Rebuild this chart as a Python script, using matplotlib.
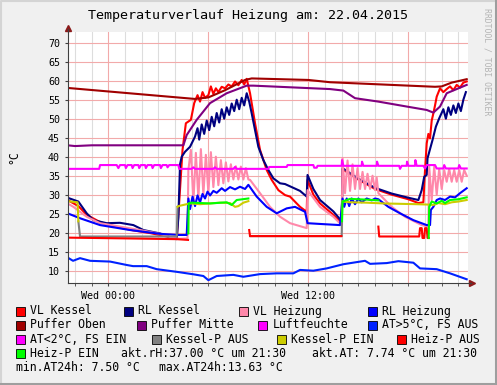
import numpy as np
import matplotlib
matplotlib.use('Agg')
import matplotlib.pyplot as plt
from matplotlib.patches import Rectangle
from matplotlib.lines import Line2D

nan = np.nan

# ── Daten (Stunden relativ zu Wed 00:00, Werte in °C) ─────────────
vl_kessel_t = [-2.45, -1.8, -1.3, -0.5, 0.5, 1.5, 2.5, 3.5, 4.1, 4.25, 4.45, 4.65, 4.95, 5.15, 5.35,
               5.5, 5.65, 5.8, 6.0, 6.15, 6.3, 6.45, 6.6, 6.8, 7.0, 7.2, 7.4, 7.6, 7.8, 8.0, 8.15,
               8.3, 8.5, 8.8, 9.1, 9.5, 9.8, 10.2, 10.6, 10.9, 11.5, 11.9, 11.95, 12.3, 12.7, 13.5,
               14.0, 14.05, 15.0, 16.0, 17.0, 18.0, 18.6, 18.9, 19.0, 19.1, 19.2, 19.3, 19.4, 19.5,
               19.6, 19.7, 19.9, 20.1, 20.3, 20.5, 20.7, 20.9, 21.1, 21.3, 21.5]
vl_kessel_v = [28.6, 27.0, 24.7, 22.8, 21.5, 20.6, 19.9, 19.0, 18.4, 28.0, 41.8, 48.8, 49.7, 54.1, 56.2,
               54.5, 57.0, 55.5, 56.2, 58.5, 56.5, 58.0, 57.0, 58.4, 58.0, 59.0, 58.5, 59.8, 58.8, 60.2, 59.0,
               60.5, 56.7, 48.8, 41.8, 36.5, 33.9, 31.2, 29.9, 29.5, 26.8, 25.5, 33.9, 30.0, 27.7, 24.7,
               22.5, 36.7, 34.0, 31.5, 30.0, 28.8, 27.8, 28.0, 36.5, 43.5, 46.0, 44.8, 49.5, 51.4,
               53.5, 55.8, 58.0, 57.0, 57.8, 58.5, 57.5, 58.9, 58.2, 59.5, 59.8]

rl_kessel_t = [-2.45, -1.8, -1.3, -0.9, -0.1, 0.7, 1.5, 2.1, 3.1, 3.9, 4.1, 4.2, 4.3, 4.4, 4.6, 4.9,
               5.2, 5.35, 5.45, 5.6, 5.75, 5.9, 6.05, 6.2, 6.35, 6.5, 6.65, 6.8, 6.95, 7.1, 7.25,
               7.4, 7.55, 7.7, 7.85, 8.0, 8.15, 8.3, 8.45, 8.6, 8.8, 9.0, 9.3, 9.6, 9.9, 10.3, 10.6,
               11.0, 11.5, 11.9, 11.95, 12.3, 12.7, 13.5, 14.0, 14.05, 15.0, 16.0, 17.0, 18.0, 18.6,
               18.8, 18.95, 19.1, 19.15, 19.45, 19.65, 19.85, 20.1, 20.25, 20.4, 20.55, 20.7, 20.85,
               21.0, 21.15, 21.3, 21.45]
rl_kessel_v = [29.2, 28.2, 25.1, 23.3, 22.5, 22.6, 22.0, 20.7, 19.8, 18.5, 18.3, 24.0, 38.0, 40.0, 41.3, 42.6,
               45.3, 47.5, 44.5, 48.5, 46.0, 49.5, 47.0, 50.5, 48.0, 51.5, 49.0, 52.5, 50.0, 53.0, 51.0,
               54.0, 52.0, 55.0, 52.5, 55.5, 53.5, 56.7, 54.5, 51.4, 47.0, 42.6, 39.1, 36.5, 34.3, 33.0, 32.8,
               32.0, 31.0, 29.5, 35.2, 31.5, 28.6, 25.6, 23.0, 37.0, 34.2, 31.8, 30.3, 29.2, 28.6,
               31.2, 34.7, 35.2, 39.6, 44.4, 47.9, 50.1, 52.5, 50.0, 53.0, 51.0, 53.5, 51.5,
               54.0, 52.0, 55.0, 57.0]

vl_heizung_t = [-2.45, -2.1, -1.3, -0.5, 0.7, 1.9, 3.1, 3.9, 4.3, 4.75,
                4.8, 4.95, 5.1, 5.25, 5.4, 5.55, 5.7, 5.85, 6.0, 6.15, 6.3, 6.45, 6.6, 6.75, 6.9, 7.05,
                7.2, 7.35, 7.5, 7.65, 7.8, 7.95, 8.1, 8.25, 8.4, 8.5,
                9.1, 9.7, 10.3, 10.9, 11.9, 11.95, 12.7, 13.5, 14.0,
                14.05, 14.2, 14.35, 14.5, 14.65, 14.8, 14.95, 15.1, 15.25, 15.4, 15.55, 15.7, 15.85,
                16.0, 16.1, 16.2, 17.0, 17.8, 18.8, 19.2,
                19.25, 19.4, 19.55, 19.7, 19.85, 20.0, 20.15, 20.3, 20.45, 20.6, 20.75, 20.9, 21.05,
                21.2, 21.35, 21.5]
vl_heizung_v = [27.7, 26.8, 24.2, 22.5, 21.6, 20.7, 19.7, 18.6, 18.4, 18.5,
                36.5, 41.8, 28.0, 41.0, 29.0, 42.0, 30.0, 40.5, 30.5, 41.2, 32.0, 40.0, 32.5, 39.1, 33.0, 38.5,
                33.5, 38.0, 34.0, 37.5, 34.0, 37.4, 34.0, 37.0, 34.0, 33.9,
                30.4, 26.8, 24.2, 22.5, 21.2, 31.2, 26.8, 24.2, 22.0,
                39.6, 30.4, 39.0, 31.0, 38.0, 31.5, 37.0, 31.5, 36.0, 31.5, 35.5, 31.5, 35.0,
                31.2, 34.5, 30.4, 26.8, 24.2, 22.0, 21.6,
                37.4, 28.6, 37.4, 30.0, 36.8, 31.5, 36.5, 33.4, 36.8, 33.4, 36.5, 33.4, 36.5,
                33.4, 36.5, 35.0]

rl_heizung_t = [-2.45, -1.7, -0.5, 1.3, 3.1, 4.2, 4.7, 4.8, 4.9, 5.05, 5.2, 5.35, 5.5, 5.65, 5.8, 5.95,
                6.1, 6.3, 6.5, 6.8, 7.0, 7.3, 7.6, 7.9, 8.2, 8.4, 8.9, 9.5, 10.1, 10.7, 11.2, 11.8, 11.95,
                12.7, 13.9, 14.05, 14.15, 14.3, 14.45, 14.6, 14.8, 15.0, 15.2, 15.5, 15.8, 16.0, 16.2,
                16.8, 17.5, 18.3, 19.1, 19.3, 19.35, 19.5, 19.7, 19.9, 20.2, 20.5, 20.8, 21.1, 21.5]
rl_heizung_v = [25.1, 23.8, 22.0, 20.7, 19.7, 19.4, 19.4, 29.0, 26.2, 29.5, 27.0, 29.8, 28.0, 30.2, 29.0, 30.8,
                29.8, 31.0, 30.5, 31.7, 31.0, 32.0, 31.4, 32.1, 31.5, 32.6, 29.5, 26.8, 25.1, 26.4, 26.8, 25.5, 22.5,
                22.3, 22.0, 29.0, 26.8, 29.0, 27.0, 29.0, 27.5, 29.0, 28.0, 29.0, 28.5, 29.0, 28.8,
                26.8, 25.1, 23.3, 22.0, 22.0, 26.0, 26.8, 28.6, 29.0, 28.6, 29.5, 29.3, 30.4, 31.7]

puffer_oben_t = [-2.45, 5.2, 6.0, 7.0, 8.2, 8.6, 12.0, 13.3, 19.6, 20.0, 20.6, 21.5]
puffer_oben_v = [58.1, 55.2, 55.6, 57.5, 60.2, 60.6, 60.2, 59.6, 58.4, 58.5, 59.5, 60.4]

puffer_mitte_t = [-2.45, -2.0, -1.0, 4.5, 4.7, 5.3, 6.1, 7.1, 8.3, 8.7, 13.3, 14.1, 14.8, 16.2, 17.9,
                  19.1, 19.5, 19.9, 20.3, 21.5]
puffer_mitte_v = [43.0, 42.8, 43.0, 43.0, 45.7, 49.7, 54.1, 56.7, 58.7, 58.7, 57.8, 57.4, 55.4, 54.5, 53.2,
                  52.3, 51.6, 53.2, 56.7, 58.9]

luft_t = [-2.45, -0.55, -0.5, 0.5, 0.6, 0.7, 1.0, 1.05, 1.15, 1.4, 1.45, 1.55, 1.8, 1.85, 1.95, 2.2,
          2.25, 2.35, 2.6, 2.65, 2.75, 3.1, 3.15, 3.25, 3.5, 3.55, 3.65, 4.2, 4.25, 5.0, 5.1, 5.2,
          6.3, 6.4, 6.5, 7.5, 7.6, 7.7, 9.6, 9.65, 10.7, 10.75, 12.3, 12.35, 12.5, 12.55, 14.0, 14.02,
          14.1, 15.2, 15.22, 15.3, 16.1, 16.12, 16.2, 17.45, 17.5, 17.6, 17.9, 17.92, 18.0, 18.4,
          18.42, 18.5, 18.9, 19.0, 19.1, 19.6, 19.7, 20.1, 20.15, 20.25, 21.0, 21.05, 21.15, 21.5]
luft_v = [36.8, 36.8, 37.8, 37.8, 37.0, 37.8, 37.8, 37.0, 37.8, 37.8, 37.0, 37.8, 37.8, 37.0, 37.8, 37.8,
          37.0, 37.8, 37.8, 37.0, 37.8, 37.8, 37.0, 37.8, 37.8, 37.2, 37.8, 37.8, 36.8, 36.8, 37.2, 36.8,
          36.8, 37.2, 36.8, 36.8, 37.3, 36.8, 36.8, 37.3, 37.3, 37.8, 37.8, 37.1, 37.1, 37.6, 37.6, 39.1,
          37.6, 37.6, 38.7, 37.6, 37.6, 38.7, 37.6, 37.6, 36.8, 37.6, 37.6, 38.7, 37.6, 37.6,
          39.1, 37.6, 37.6, 36.9, 37.8, 37.8, 36.9, 36.9, 37.8, 36.9, 36.9, 37.8, 36.9, 36.9]

at_t = [-2.46, -2.12, -1.7, -1.1, 0.1, 1.1, 1.48, 2.3, 2.9, 4.1, 5.1, 5.7, 6.0, 6.5, 7.5, 8.1, 9.1,
        10.1, 11.1, 11.5, 12.3, 13.1, 14.1, 15.4, 15.7, 16.7, 17.4, 18.3, 18.7, 19.7, 20.5, 21.5]
at_v = [13.5, 12.6, 13.3, 12.6, 12.4, 11.5, 11.2, 11.2, 10.4, 9.7, 9.05, 8.6, 7.5, 8.6, 8.9, 8.4, 9.1,
        9.3, 9.3, 10.2, 10.0, 10.6, 11.7, 12.6, 11.8, 12.0, 12.5, 12.1, 10.6, 10.4, 9.3, 7.74]

kp_aus_t = [-1.8, -1.7, 4.1, 4.15, 4.2, 8.5, 14.0, 14.03]
kp_aus_v = [23.0, 19.0, 19.0, 26.8, nan, 19.1, 19.1, 28.2]

kp_ein_t = [-2.45, -1.85, -1.8, -1.75, 4.15, 4.2, 4.9, 5.5, 6.1, 6.7, 7.3, 7.6, 7.8, 8.1, 8.4, 8.45,
            14.05, 14.5, 15.5, 16.5, 17.5, 18.5, 19.2, 19.5, 19.8, 20.2, 20.6, 21.0, 21.5]
kp_ein_v = [28.3, 28.0, 23.0, nan, 26.8, 27.0, 27.7, 27.5, 27.7, 27.9, 27.8, 26.8, 27.0, 27.9, 28.3, nan,
            28.2, 28.0, 27.9, 27.7, 27.6, 27.5, 27.4, 27.3, 27.8, 27.5, 28.0, 28.2, 28.6]

hp_aus_t = [-2.45, 1.0, 4.1, 4.78, 4.8, 8.45, 8.5, 13.98, 14.0, 16.2, 16.25, 18.65, 18.7, 18.8,
            18.85, 18.95, 19.0, 19.1, 19.15, 19.22]
hp_aus_v = [18.7, 18.5, 18.3, 18.1, nan, 20.7, 19.1, 19.1, nan, 21.6, 19.0, 19.0, 21.2, 21.2,
            18.6, 18.6, 21.2, 21.2, 18.6, 18.6]

hp_ein_t = [4.8, 4.82, 5.0, 6.1, 7.1, 7.4, 7.7, 8.4, 8.45, 14.02, 14.05, 14.5, 15.0, 15.5, 16.2, 16.25,
            19.22, 19.25, 19.4, 19.7, 20.0, 20.2, 20.5, 21.0, 21.5]
hp_ein_v = [19.8, 27.7, 27.9, 27.7, 28.0, 27.3, 28.6, 29.0, nan, 23.0, 28.2, 28.9, 28.8, 28.7, 28.5, nan,
            18.6, 26.8, 28.2, 27.7, 28.4, 27.8, 28.6, 28.8, 29.3]

# ── Legende ───────────────────────────────────────────────────────
legend = [
    ('VL Kessel', '#FF0000', 16, 311), ('RL Kessel', '#000080', 124, 311),
    ('VL Heizung', '#FF88AA', 239, 311), ('RL Heizung', '#0000FF', 368, 311),
    ('Puffer Oben', '#A00000', 16, 325), ('Puffer Mitte', '#800080', 136.5, 325),
    ('Luftfeuchte', '#FF00FF', 258, 325), ('AT>5°C, FS AUS', '#0022FF', 368, 325),
    ('AT<2°C, FS EIN', '#FF00FF', 16, 339.3), ('Kessel-P AUS', '#808080', 151.5, 339.3),
    ('Kessel-P EIN', '#CCCC00', 276.5, 339.3), ('Heiz-P AUS', '#FF0000', 396.5, 339.3),
    ('Heiz-P EIN', '#00FF00', 16, 353.3),
]
extra_text = [
    ('akt.rH:37.00 °C um 21:30', 121, 353.3), ('akt.AT: 7.74 °C um 21:30', 312.5, 353.3),
    ('min.AT24h: 7.50 °C', 16.5, 367.3), ('max.AT24h:13.63 °C', 159, 367.3),
]

W, H = 497, 385
plt.rcParams['font.family'] = ['DejaVu Sans Mono']

fig = plt.figure(figsize=(W / 100, H / 100), dpi=100)
fig.patch.set_facecolor('#F0F0F0')

ax = fig.add_axes([67.7 / W, (H - 283.3) / H, 400 / W, 251 / H])
ax.set_facecolor('white')
ax.set_xlim(-2.44, 21.56)
ax.set_ylim(6.68, 72.74)

# Gitter
for h in range(-2, 22):
    col = '#F2AAAA' if h % 6 == 0 else '#DDDDDD'
    ax.axvline(h, color=col, lw=0.8, zorder=0)
for v in range(10, 75, 5):
    ax.axhline(v, color='#F2AAAA', lw=0.8, zorder=0)

lw = 1.5
ax.plot(vl_kessel_t, vl_kessel_v, color='#FF0000', lw=lw)
ax.plot(rl_kessel_t, rl_kessel_v, color='#000080', lw=lw)
ax.plot(vl_heizung_t, vl_heizung_v, color='#FF88AA', lw=lw)
ax.plot(rl_heizung_t, rl_heizung_v, color='#0000FF', lw=lw)
ax.plot(puffer_oben_t, puffer_oben_v, color='#A00000', lw=lw)
ax.plot(puffer_mitte_t, puffer_mitte_v, color='#800080', lw=lw)
ax.plot(luft_t, luft_v, color='#FF00FF', lw=lw)
ax.plot(at_t, at_v, color='#0022FF', lw=lw)
ax.plot(kp_aus_t, kp_aus_v, color='#808080', lw=lw)
ax.plot(kp_ein_t, kp_ein_v, color='#CCCC00', lw=lw)
ax.plot(hp_aus_t, hp_aus_v, color='#FF0000', lw=lw)
ax.plot(hp_ein_t, hp_ein_v, color='#00FF00', lw=lw)

# Achsen
for s in ['top', 'right']:
    ax.spines[s].set_visible(False)
for s in ['left', 'bottom']:
    ax.spines[s].set_color('#404040')
    ax.spines[s].set_linewidth(0.8)
ax.set_yticks(range(10, 75, 5))
ax.set_xticks([0, 12])
ax.set_xticklabels(['Wed 00:00', 'Wed 12:00'])
ax.set_xticks(range(-2, 22), minor=True)
ax.tick_params(axis='both', labelsize=7.2, color='#404040', length=2, width=0.8)
ax.tick_params(axis='x', which='minor', length=2, color='#404040')
ax.tick_params(axis='x', pad=3.5)
ax.tick_params(axis='y', pad=3.5)

# Pfeile
ax.plot([0], [1.0 + 4 / 251], marker='^', ms=4, color='#8B1A1A', transform=ax.transAxes, clip_on=False)
ax.plot([0, 0], [1.0, 1.0 + 3 / 251], color='#404040', lw=0.8, transform=ax.transAxes, clip_on=False)
ax.plot([1.0 + 4 / 400], [0], marker='>', ms=4, color='#8B1A1A', transform=ax.transAxes, clip_on=False)
ax.plot([1.0, 1.0 + 3 / 400], [0, 0], color='#404040', lw=0.8, transform=ax.transAxes, clip_on=False)

# Texte
fig.text(248 / W, 1 - 16 / H, 'Temperaturverlauf Heizung am: 22.04.2015', ha='center', va='center', fontsize=9.6)
fig.text(14 / W, 1 - 157 / H, '°C', rotation=90, ha='center', va='center', fontsize=8.3)
fig.text(487 / W, 1 - 8 / H, 'RRDTOOL / TOBI OETIKER', rotation=270, ha='center', va='top',
         fontsize=5.9, color='#B4B4B4')

for label, col, x, y in legend:
    fig.patches.append(Rectangle((x / W, 1 - (y + 4.5) / H), 9 / W, 9 / H, transform=fig.transFigure,
                                 facecolor=col, edgecolor='black', lw=0.6))
    fig.text((x + 14.5) / W, 1 - y / H, label, ha='left', va='center', fontsize=8.3)
for label, x, y in extra_text:
    fig.text(x / W, 1 - y / H, label, ha='left', va='center', fontsize=8.3)

# Rahmen
fig.lines.append(Line2D([0.5 / W, 0.5 / W, 1], [0, 1 - 0.5 / H, 1 - 0.5 / H], transform=fig.transFigure,
                        color='#D4D4D4', lw=1.5))
fig.lines.append(Line2D([0, 1 - 1 / W, 1 - 1 / W], [1 / H, 1 / H, 1], transform=fig.transFigure,
                        color='#9E9E9E', lw=2.2))

fig.savefig('out.png', dpi=100, facecolor=fig.get_facecolor())
